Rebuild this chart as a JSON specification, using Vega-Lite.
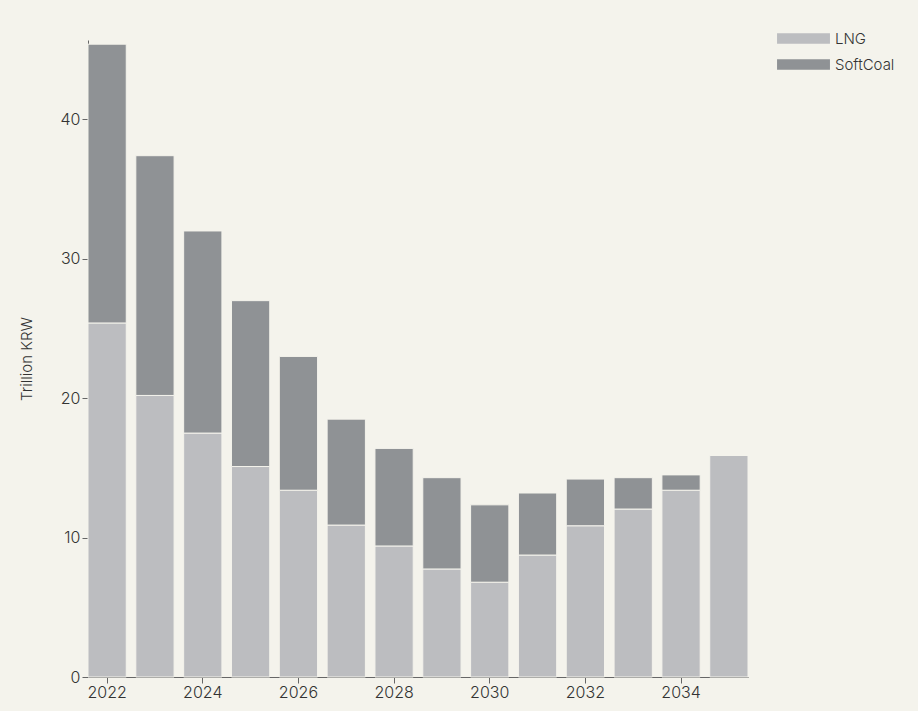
{
  "$schema": "https://vega.github.io/schema/vega-lite/v6.json",
  "width": 660,
  "height": 637,
  "autosize": {"type": "none"},
  "padding": {"left": 88, "top": 40, "right": 170, "bottom": 34},
  "background": "#f4f3ec",
  "config": {
    "view": {"stroke": null},
    "font": "Inter",
    "axis": {"labelColor": "#333", "titleColor": "#333", "domainColor": "#666", "tickColor": "#666", "labelFontSize": 16, "labelFontWeight": 300, "tickSize": 6, "grid": false}
  },
  "data": {
    "values": [
      {"year": "2022", "fuel": "LNG", "value": 25.4}, {"year": "2022", "fuel": "SoftCoal", "value": 20.0},
      {"year": "2023", "fuel": "LNG", "value": 20.2}, {"year": "2023", "fuel": "SoftCoal", "value": 17.2},
      {"year": "2024", "fuel": "LNG", "value": 17.5}, {"year": "2024", "fuel": "SoftCoal", "value": 14.5},
      {"year": "2025", "fuel": "LNG", "value": 15.1}, {"year": "2025", "fuel": "SoftCoal", "value": 11.9},
      {"year": "2026", "fuel": "LNG", "value": 13.4}, {"year": "2026", "fuel": "SoftCoal", "value": 9.6},
      {"year": "2027", "fuel": "LNG", "value": 10.9}, {"year": "2027", "fuel": "SoftCoal", "value": 7.6},
      {"year": "2028", "fuel": "LNG", "value": 9.4}, {"year": "2028", "fuel": "SoftCoal", "value": 7.0},
      {"year": "2029", "fuel": "LNG", "value": 7.75}, {"year": "2029", "fuel": "SoftCoal", "value": 6.55},
      {"year": "2030", "fuel": "LNG", "value": 6.8}, {"year": "2030", "fuel": "SoftCoal", "value": 5.55},
      {"year": "2031", "fuel": "LNG", "value": 8.75}, {"year": "2031", "fuel": "SoftCoal", "value": 4.45},
      {"year": "2032", "fuel": "LNG", "value": 10.85}, {"year": "2032", "fuel": "SoftCoal", "value": 3.35},
      {"year": "2033", "fuel": "LNG", "value": 12.05}, {"year": "2033", "fuel": "SoftCoal", "value": 2.25},
      {"year": "2034", "fuel": "LNG", "value": 13.4}, {"year": "2034", "fuel": "SoftCoal", "value": 1.1},
      {"year": "2035", "fuel": "LNG", "value": 15.9}, {"year": "2035", "fuel": "SoftCoal", "value": 0}
    ]
  },
  "mark": {"type": "bar", "stroke": "#f4f3ec", "strokeWidth": 1},
  "encoding": {
    "x": {
      "field": "year", "type": "ordinal", "title": null,
      "scale": {"paddingInner": 0.2, "paddingOuter": 0},
      "axis": {"values": ["2022", "2024", "2026", "2028", "2030", "2032", "2034"], "labelAngle": 0, "labelPadding": 1}
    },
    "y": {
      "field": "value", "type": "quantitative", "stack": "zero", "title": "Trillion KRW",
      "scale": {"domain": [0, 45.7], "nice": false},
      "axis": {"values": [0, 10, 20, 30, 40], "titleFontSize": 15, "titleFontWeight": 300, "titlePadding": 26}
    },
    "color": {
      "field": "fuel", "type": "nominal", "title": null,
      "scale": {"domain": ["LNG", "SoftCoal"], "range": ["#bcbdc0", "#8f9295"]},
      "legend": {"orient": "none", "legendX": 702, "legendY": -15, "symbolType": "M-2,-0.4H2V0.4H-2Z", "symbolSize": 700, "symbolStrokeWidth": 0, "labelFontSize": 15, "labelFontWeight": 300, "labelColor": "#333", "rowPadding": 4, "labelOffset": 18}
    },
    "order": {"field": "fuel", "sort": "ascending"}
  }
}
